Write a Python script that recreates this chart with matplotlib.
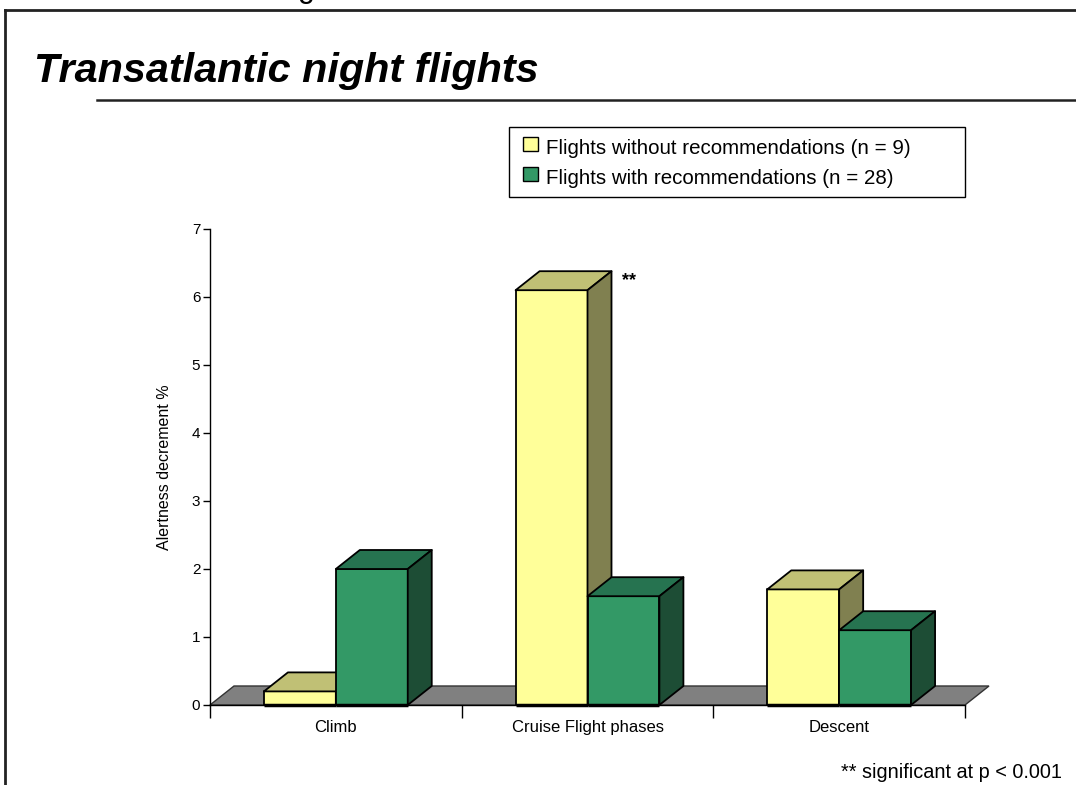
import matplotlib
matplotlib.use("Agg")
import matplotlib.pyplot as plt
from matplotlib.patches import Polygon, Rectangle
from matplotlib.lines import Line2D

plt.rcParams['font.family'] = ['Liberation Sans', 'DejaVu Sans']

# Data
phases = ["Climb", "Cruise Flight phases", "Descent"]
series_names = ["Flights without recommendations (n = 9)",
                "Flights with recommendations (n = 28)"]
without_rec = [0.2, 6.1, 1.7]
with_rec = [2.0, 1.6, 1.1]
y_ticks = [0, 1, 2, 3, 4, 5, 6, 7]

# Face colours (front, top, side) per series
yellow = ("#FFFF99", "#C0C075", "#808050")
green = ("#339966", "#267350", "#1D4D35")
floor_color = "#808080"

W, H = 1076, 785
fig = plt.figure(figsize=(W / 100, H / 100), dpi=100)

# Plot area in pixel terms
x0, x1, ytop, ybot = 210, 965, 229, 705
ax = fig.add_axes([x0 / W, 1 - ybot / H, (x1 - x0) / W, (ybot - ytop) / H])
ax.set_xlim(0, 3)
ax.set_ylim(0, 7)

px_x = 3 / (x1 - x0)
px_y = 7 / (ybot - ytop)
dx = 24 * px_x
dy = 19 * px_y

# Floor
ax.add_patch(Polygon([(0, 0), (3, 0), (3 + dx, dy), (dx, dy)], closed=True,
                     facecolor=floor_color, edgecolor="#333333", lw=1.0,
                     clip_on=False, zorder=1))

bar_w = 2 / 7
lw = 1.3


def bar3d(x, h, cols, z):
    front, top, side = cols
    ax.add_patch(Polygon([(x, 0), (x + bar_w, 0), (x + bar_w, h), (x, h)],
                         facecolor=front, edgecolor="black", lw=lw,
                         clip_on=False, zorder=z, joinstyle="round"))
    ax.add_patch(Polygon([(x, h), (x + bar_w, h), (x + bar_w + dx, h + dy), (x + dx, h + dy)],
                         facecolor=top, edgecolor="black", lw=lw,
                         clip_on=False, zorder=z, joinstyle="round"))
    ax.add_patch(Polygon([(x + bar_w, 0), (x + bar_w + dx, dy), (x + bar_w + dx, h + dy), (x + bar_w, h)],
                         facecolor=side, edgecolor="black", lw=lw,
                         clip_on=False, zorder=z, joinstyle="round"))
    ax.plot([x, x + bar_w], [0, 0], color="black", lw=2.5, zorder=z + 0.1,
            solid_capstyle="butt", clip_on=False)


z = 2
for i in range(len(phases)):
    start = i + 0.5 - bar_w
    bar3d(start, without_rec[i], yellow, z)
    z += 1
    bar3d(start + bar_w, with_rec[i], green, z)
    z += 1

# Axes styling
for s in ("top", "right"):
    ax.spines[s].set_visible(False)
ax.spines["left"].set_linewidth(1.0)
ax.spines["bottom"].set_linewidth(1.0)
ax.spines["bottom"].set_zorder(1.5)
ax.set_yticks(y_ticks)
ax.set_yticklabels([str(t) for t in y_ticks], fontsize=11)
ax.tick_params(axis="y", direction="out", length=5, width=1, pad=2)
ax.set_xticks([0, 1, 2, 3])
ax.set_xticklabels([])
ax.tick_params(axis="x", direction="out", length=9, width=1)
for i, name in enumerate(phases):
    ax.text(i + 0.5, -27 * px_y, name, ha="center", va="baseline", fontsize=12)
ax.set_ylabel("Alertness decrement %", fontsize=11.5)
ax.yaxis.set_label_coords((172 - x0) / (x1 - x0), 0.5)
ax.set_facecolor("none")

# Significance mark
ax.text((622 - x0) * px_x, (ybot - 281) * px_y, "**", fontsize=13, fontweight="bold",
        ha="left", va="center")

# Page decorations in pixel coordinates
deco = fig.add_axes([0, 0, 1, 1], zorder=-1)
deco.set_xlim(0, W)
deco.set_ylim(H, 0)
deco.axis("off")
deco.add_line(Line2D([5, W], [10, 10], color="#222222", lw=2))
deco.add_line(Line2D([5, 5], [10, H], color="#222222", lw=2))
deco.add_line(Line2D([97, W], [100, 100], color="#222222", lw=1.8))
deco.text(306, -3, "g", fontsize=22, ha="center", va="baseline")
deco.text(34, 82, "Transatlantic night flights", fontsize=29.8, fontweight="bold",
          fontstyle="italic", ha="left", va="baseline")

# Legend
leg = fig.add_axes([0, 0, 1, 1], zorder=5)
leg.set_xlim(0, W)
leg.set_ylim(H, 0)
leg.axis("off")
leg.add_patch(Rectangle((509, 127), 456, 70, facecolor="white", edgecolor="black", lw=1))
for k, (cols, name) in enumerate(zip((yellow, green), series_names)):
    yc = 145 + 30 * k
    leg.add_patch(Rectangle((523, yc - 8), 15, 14, facecolor=cols[0], edgecolor="black", lw=1))
    leg.text(546, yc + 3, name, fontsize=14.8, ha="left", va="center")

leg.text(1062, 772, "** significant at p < 0.001", fontsize=14.3, ha="right", va="center")

fig.savefig("out.png", dpi=100)
